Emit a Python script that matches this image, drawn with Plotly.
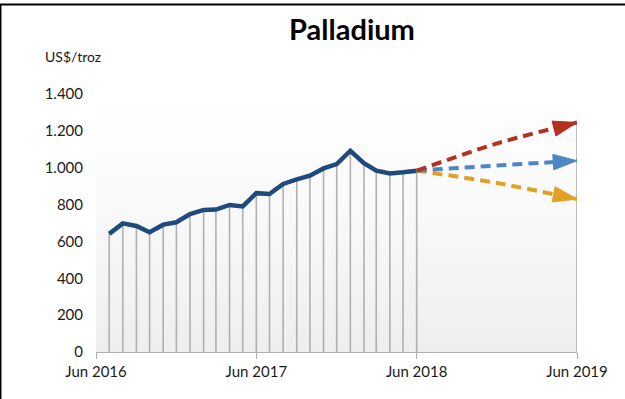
import plotly.graph_objects as go

# Monthly palladium price, US$/troz (Jul 2016 - Jun 2018)
history_months = [
    "2016-07-01", "2016-08-01", "2016-09-01", "2016-10-01", "2016-11-01", "2016-12-01",
    "2017-01-01", "2017-02-01", "2017-03-01", "2017-04-01", "2017-05-01", "2017-06-01",
    "2017-07-01", "2017-08-01", "2017-09-01", "2017-10-01", "2017-11-01", "2017-12-01",
    "2018-01-01", "2018-02-01", "2018-03-01", "2018-04-01", "2018-05-01", "2018-06-01",
]
history_prices = [
    641, 698, 684, 650, 691, 704,
    749, 771, 773, 798, 790, 862,
    857, 912, 937, 957, 996, 1020,
    1092, 1025, 984, 969, 975, 984,
]

# Forecast scenarios to Jun 2019
forecast_months = ["2018-06-01", "2018-12-01", "2019-06-01"]
forecast_high = [984, 1132, 1245]
forecast_base = [984, 1012, 1038]
forecast_low = [984, 917, 830]

x_start, x_end = "2016-06-01", "2019-06-01"
y_min, y_max = 0, 1400

FONT = "Lato"
TXT = "#1a1a1a"
GRID = "#b0b0b0"

fig = go.Figure()

# plot-area background: vertical grey-to-white gradient
fig.add_trace(go.Scatter(
    x=[x_start, x_end, x_end, x_start, x_start],
    y=[y_min, y_min, y_max, y_max, y_min],
    mode="lines", line=dict(width=0), fill="toself",
    fillgradient=dict(type="vertical",
                      colorscale=[[0, "#eeeeee"], [0.55, "#f9f9f9"], [1, "#ffffff"]]),
    hoverinfo="skip", showlegend=False,
))

# drop lines from each monthly price down to the axis
fig.add_trace(go.Scatter(
    x=history_months, y=history_prices, mode="markers",
    marker=dict(size=0.1, color="rgba(0,0,0,0)"),
    error_y=dict(type="data", symmetric=False, array=[0] * len(history_prices),
                 arrayminus=history_prices, width=0, color=GRID, thickness=1.6),
    hoverinfo="skip", showlegend=False,
))
# drop line at the end of the forecast horizon (highest scenario)
fig.add_trace(go.Scatter(
    x=forecast_months[-1:], y=forecast_high[-1:], mode="markers",
    marker=dict(size=0.1, color="rgba(0,0,0,0)"),
    error_y=dict(type="data", symmetric=False, array=[0],
                 arrayminus=forecast_high[-1:], width=0, color=GRID, thickness=1.6),
    hoverinfo="skip", showlegend=False,
))

# price history
fig.add_trace(go.Scatter(
    x=history_months, y=history_prices, mode="lines",
    line=dict(color="#1f4a7e", width=4.5),
    showlegend=False,
))

# forecast arrows
for vals, col in ((forecast_low, "#e2a126"), (forecast_base, "#4f86c6"), (forecast_high, "#b5301f")):
    n = len(vals)
    fig.add_trace(go.Scatter(
        x=forecast_months, y=vals, mode="lines+markers",
        line=dict(color=col, width=4, dash="10px,6px", shape="spline", smoothing=0.8),
        marker=dict(symbol="arrow", angleref="previous", color=col, opacity=1,
                    size=[0] * (n - 1) + [25], line=dict(width=1, color=col)),
        showlegend=False,
    ))

fig.update_layout(
    width=625, height=399,
    margin=dict(l=96, r=48, t=94, b=47),
    paper_bgcolor="white", plot_bgcolor="rgba(0,0,0,0)",
    separators=",.",
    font=dict(family=FONT, size=15, color=TXT),
    title=dict(text="<b>Palladium</b>", x=352 / 625, xanchor="center",
               y=1 - 30 / 399, yanchor="middle", yref="container",
               font=dict(family=FONT, size=29, color="#000000")),
    xaxis=dict(
        type="date", range=[x_start, x_end],
        tick0=x_start, dtick="M12", tickformat="%b %Y",
        showgrid=False, zeroline=False,
        showline=True, linecolor=GRID, linewidth=1.3,
        ticks="outside", ticklen=6, tickcolor=GRID, tickwidth=1.3,
        tickfont=dict(family=FONT, size=15, color=TXT),
    ),
    yaxis=dict(
        range=[y_min, y_max], dtick=200, tickformat=",d",
        showgrid=False, zeroline=False, showline=False,
        ticks="", ticklabelstandoff=12,
        tickfont=dict(family=FONT, size=15, color=TXT),
    ),
    annotations=[dict(
        text="US$/troz", xref="paper", yref="paper",
        x=-53 / 481, xanchor="left", y=1 + 37 / 258, yanchor="middle",
        showarrow=False, font=dict(family=FONT, size=14, color=TXT),
    )],
    shapes=[
        dict(type="line", xref="paper", yref="paper",
             x0=-96 / 481, x1=529 / 481, y0=1 + 89.5 / 258, y1=1 + 89.5 / 258,
             line=dict(color="black", width=2.2)),
        dict(type="line", xref="paper", yref="paper",
             x0=-95.3 / 481, x1=-95.3 / 481, y0=1 + 90 / 258, y1=-47 / 258,
             line=dict(color="black", width=1.5)),
    ],
)

fig.write_html("out.html")
